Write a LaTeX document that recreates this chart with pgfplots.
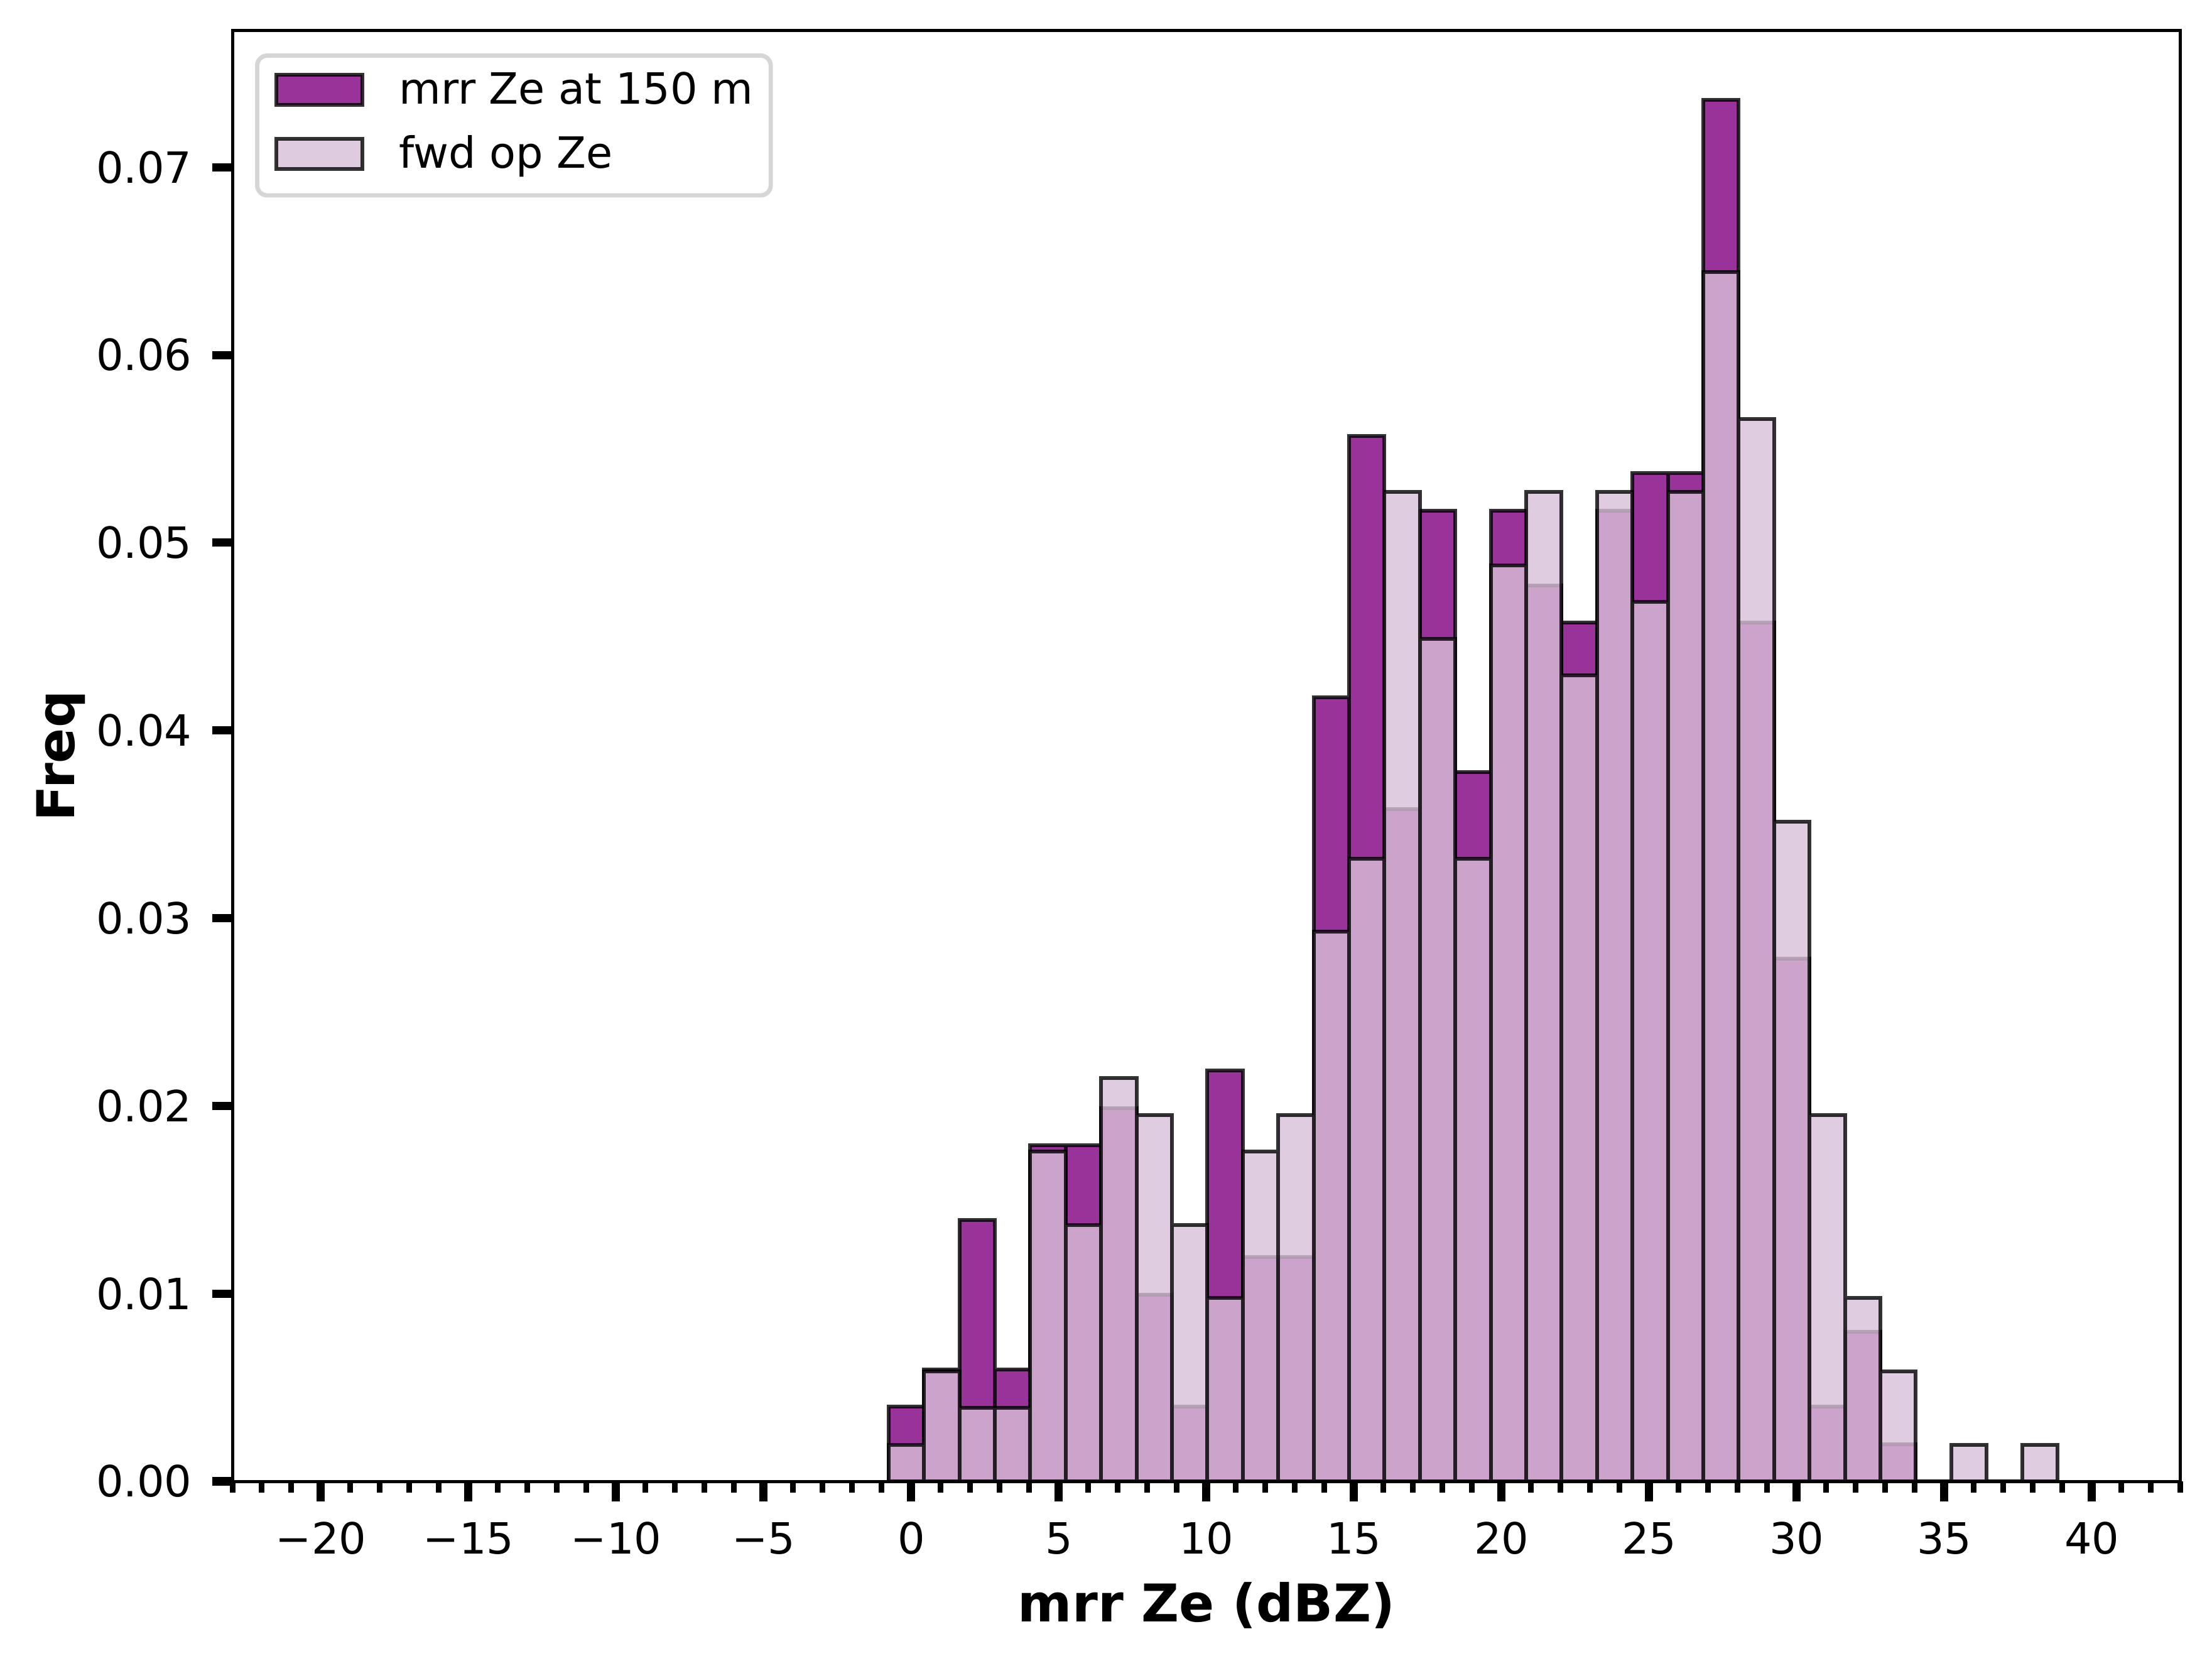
\documentclass[border=0pt]{standalone}
\usepackage{fontspec}
\setmainfont{DejaVu Sans}
\usepackage{pgfplots}
\pgfplotsset{compat=1.18}
\usepackage{pgfplotstable}
\definecolor{mrrc}{RGB}{128,0,128}
\definecolor{fwdc}{RGB}{216,191,216}
\definecolor{legedge}{RGB}{214,214,214}

\pgfplotstableread{
x y
-0.17 0.003978
1.03 0.005967
2.23 0.013922
3.43 0.005967
4.63 0.017900
5.83 0.017900
7.03 0.019889
8.23 0.009944
9.43 0.003978
10.63 0.021878
11.83 0.011933
13.03 0.011933
14.23 0.041767
15.43 0.055689
16.63 0.035800
17.83 0.051711
19.03 0.037789
20.23 0.051711
21.43 0.047733
22.63 0.045744
23.83 0.051711
25.03 0.053700
26.23 0.053700
27.43 0.073589
28.63 0.045744
29.83 0.027844
31.03 0.003978
32.23 0.007956
33.43 0.001989
34.63 0
35.83 0
37.03 0
38.23 0
}\mrrdata

\pgfplotstableread{
x y
-0.17 0.001952
1.03 0.005855
2.23 0.003903
3.43 0.003903
4.63 0.017564
5.83 0.013661
7.03 0.021468
8.23 0.019516
9.43 0.013661
10.63 0.009758
11.83 0.017564
13.03 0.019516
14.23 0.029274
15.43 0.033177
16.63 0.052693
17.83 0.044887
19.03 0.033177
20.23 0.048790
21.43 0.052693
22.63 0.042935
23.83 0.052693
25.03 0.046838
26.23 0.052693
27.43 0.064403
28.63 0.056596
29.83 0.035129
31.03 0.019516
32.23 0.009758
33.43 0.005855
34.63 0
35.83 0.001952
37.03 0
38.23 0.001952
}\fwddata

\begin{document}
\begin{tikzpicture}
\path[use as bounding box] (0,0) rectangle (563.52bp,423.04bp);
\begin{axis}[
  at={(59.2bp,45.76bp)}, anchor=south west,
  scale only axis, width=496.32bp, height=369.44bp,
  xmin=-23, xmax=43, ymin=0, ymax=0.077268,
  axis on top,
  xtick={-20,-15,-10,-5,0,5,10,15,20,25,30,35,40},
  xticklabels={−20,−15,−10,−5,0,5,10,15,20,25,30,35,40},
  minor xtick={-23,-22,...,43},
  ytick={0,0.01,0.02,0.03,0.04,0.05,0.06,0.07},
  yticklabels={0.00,0.01,0.02,0.03,0.04,0.05,0.06,0.07},
  tick align=outside,
  xtick pos=left, ytick pos=left,
  major tick length=5.12bp, minor tick length=2.88bp,
  major tick style={line width=2.08bp, black},
  minor tick style={line width=1.44bp, black},
  axis line style={line width=0.8bp},
  tick label style={font=\fontsize{11}{13}\selectfont, inner sep=0pt},
  xticklabel shift=5.1bp, yticklabel shift=5bp,
  xlabel={mrr Ze (dBZ)}, ylabel={Freq},
  label style={font=\fontsize{13.3}{16}\selectfont\bfseries, inner sep=0pt},
  xlabel shift=6.8bp, ylabel shift=2.6bp,
  /pgf/number format/assume math mode=true,
  legend cell align=left,
  legend style={
    at={(0,1)}, anchor=north west, xshift=5.76bp, yshift=-5.76bp,
    draw=legedge, line width=1.1bp, rounded corners=2.6bp, fill=white,
    inner xsep=4.4bp, inner ysep=4.4bp, row sep=7.6bp,
    font=\fontsize{11}{13}\selectfont,
    nodes={inner sep=0pt, text height=0.76em, text depth=0.03em},
  },
]
\addplot[ybar, bar width=1.2, /pgf/bar shift=0pt,
  fill=mrrc, fill opacity=0.8, draw=black, draw opacity=0.8, line width=0.96bp,
  legend image code/.code={
    \draw[sharp corners, line width=0.96bp, fill=mrrc, fill opacity=0.8, draw=black, draw opacity=0.8] (0bp,-3.85bp) rectangle (22bp,3.85bp);
    \path (30.8bp,0bp);}
] table[x=x, y=y] {\mrrdata};
\addlegendentry{mrr Ze at 150 m}
\addplot[ybar, bar width=1.2, /pgf/bar shift=0pt,
  fill=fwdc, fill opacity=0.8, draw=black, draw opacity=0.8, line width=0.96bp,
  legend image code/.code={
    \draw[sharp corners, line width=0.96bp, fill=fwdc, fill opacity=0.8, draw=black, draw opacity=0.8] (0bp,-3.85bp) rectangle (22bp,3.85bp);
    \path (30.8bp,-5.75bp);}
] table[x=x, y=y] {\fwddata};
\addlegendentry{fwd op Ze}
\end{axis}
\end{tikzpicture}
\end{document}
